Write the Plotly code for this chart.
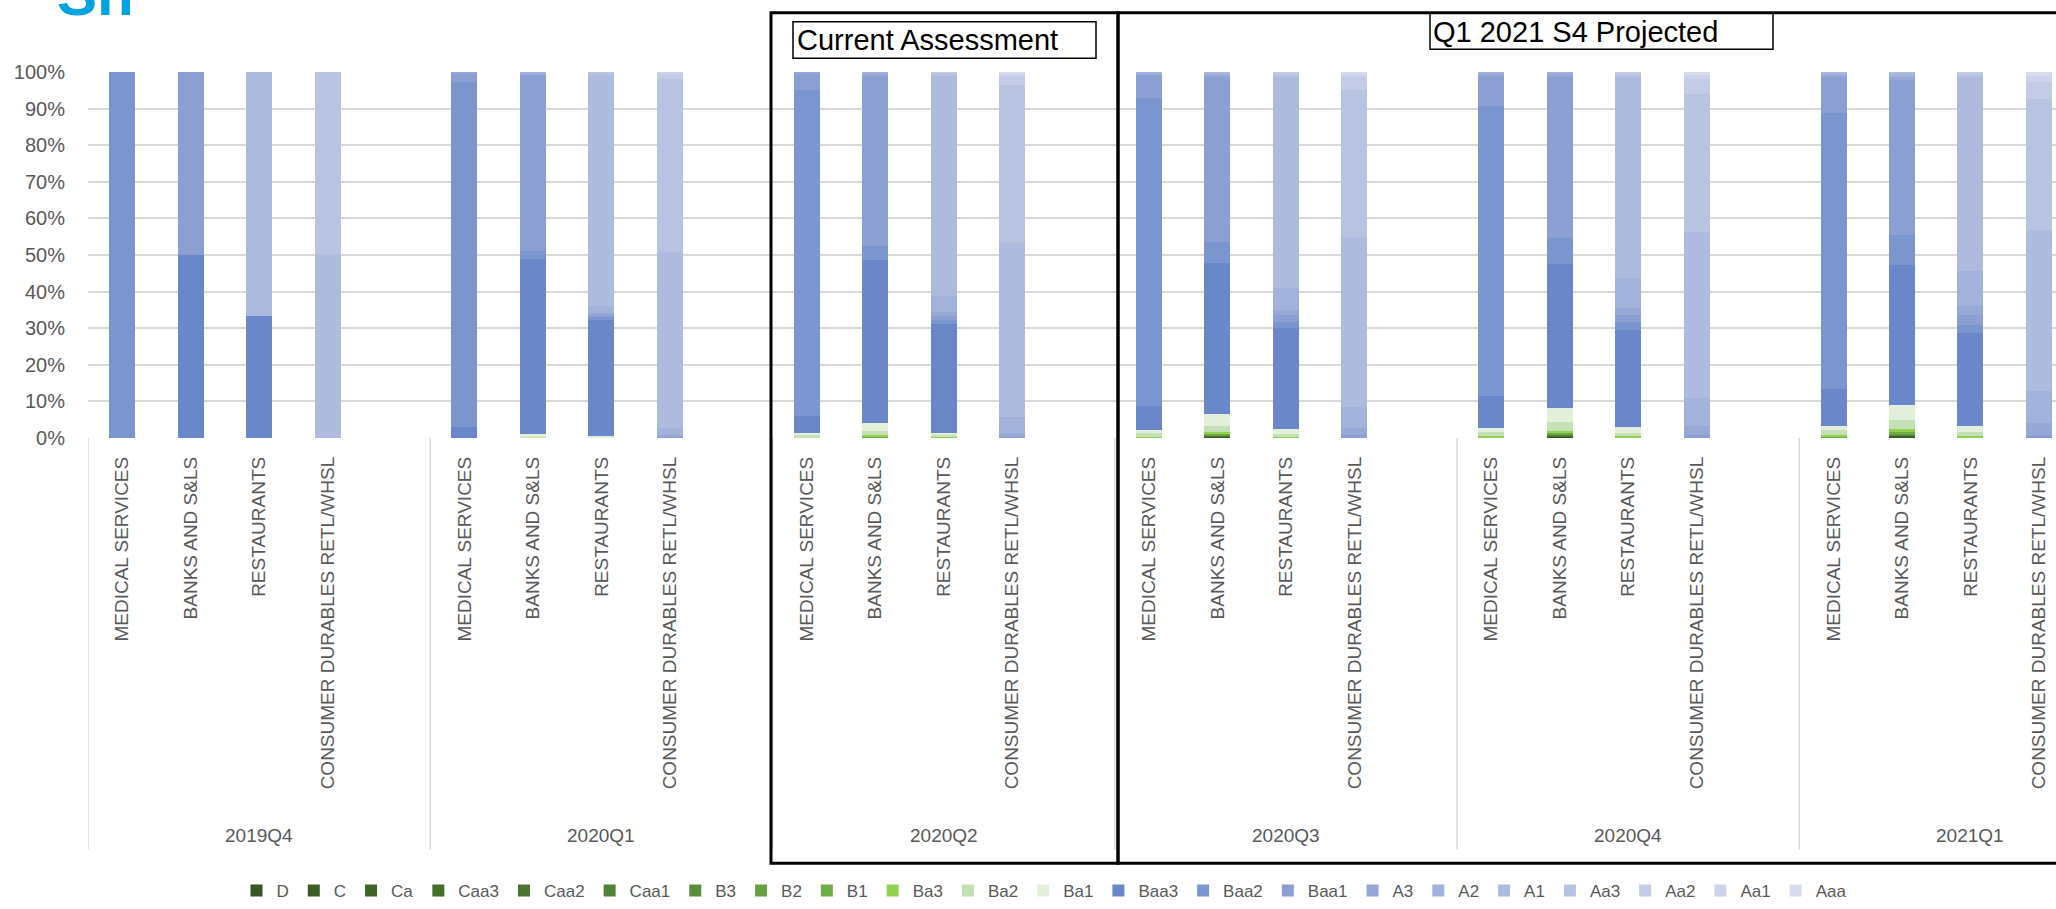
import plotly.graph_objects as go

# ---------------- data ----------------
quarters = ["2019Q4", "2020Q1", "2020Q2", "2020Q3", "2020Q4", "2021Q1"]
industries = ["MEDICAL SERVICES", "BANKS AND S&LS", "RESTAURANTS", "CONSUMER DURABLES RETL/WHSL"]
ratings = ["D", "C", "Ca", "Caa3", "Caa2", "Caa1", "B3", "B2", "B1", "Ba3", "Ba2", "Ba1",
           "Baa3", "Baa2", "Baa1", "A3", "A2", "A1", "Aa3", "Aa2", "Aa1", "Aaa"]

# share (%) per bar, ordered quarter by quarter, industry by industry
D    = [0, 0, 0, 0,  0, 0, 0, 0,  0, 0, 0, 0,  0, 0.2, 0, 0,  0, 0.3, 0, 0,  0, 0.4, 0, 0]
C    = [0, 0, 0, 0,  0, 0, 0, 0,  0, 0, 0, 0,  0, 0.1, 0, 0,  0, 0.1, 0, 0,  0, 0.1, 0, 0]
Ca   = [0, 0, 0, 0,  0, 0, 0, 0,  0, 0, 0, 0,  0, 0.1, 0, 0,  0, 0.1, 0, 0,  0, 0.1, 0, 0]
Caa3 = [0, 0, 0, 0,  0, 0, 0, 0,  0, 0, 0, 0,  0, 0.1, 0, 0,  0, 0.1, 0, 0,  0, 0.1, 0, 0]
Caa2 = [0, 0, 0, 0,  0, 0, 0, 0,  0, 0, 0, 0,  0, 0.1, 0, 0,  0, 0.1, 0, 0,  0, 0.1, 0, 0]
Caa1 = [0, 0, 0, 0,  0, 0, 0, 0,  0, 0, 0, 0,  0, 0.1, 0, 0,  0, 0.1, 0, 0,  0, 0.1, 0, 0]
B3   = [0, 0, 0, 0,  0, 0, 0, 0,  0, 0, 0, 0,  0, 0.1, 0, 0,  0, 0.1, 0, 0,  0, 0.1, 0, 0]
B2   = [0, 0, 0, 0,  0, 0, 0, 0,  0, 0, 0, 0,  0, 0.1, 0, 0,  0, 0.2, 0, 0,  0, 0.2, 0, 0]
B1   = [0, 0, 0, 0,  0, 0, 0, 0,  0, 0.3, 0, 0,  0.2, 0.3, 0.1, 0,  0.2, 0.4, 0.2, 0,  0.3, 0.5, 0.2, 0]
Ba3  = [0, 0, 0, 0,  0, 0, 0, 0,  0.2, 0.4, 0.2, 0,  0.2, 0.4, 0.2, 0,  0.3, 0.5, 0.3, 0,  0.6, 0.8, 0.3, 0]
Ba2  = [0, 0, 0, 0,  0, 0.4, 0.2, 0,  0.5, 1.3, 0.6, 0,  1.0, 1.8, 0.7, 0,  1.1, 2.5, 0.9, 0,  1.2, 2.4, 1.1, 0]
Ba1  = [0, 0, 0, 0,  0, 0.6, 0.3, 0,  0.6, 2.2, 0.7, 0,  0.9, 3.1, 1.5, 0,  1.1, 3.6, 1.6, 0,  1.1, 4.0, 1.8, 0.1]
Baa3 = [0, 50, 33.3, 0,  2.9, 47.9, 31.8, 0,  4.8, 44.3, 29.7, 0,  6.5, 41.4, 27.6, 0,  8.7, 39.5, 26.4, 0,  10.3, 38.4, 25.2, 0.1]
Baa2 = [100, 0, 0, 0,  94.5, 2.3, 0.7, 0,  88.9, 3.9, 1.1, 0,  84.0, 5.7, 1.5, 0.2,  79.4, 7.0, 2.2, 0.2,  75.4, 8.3, 2.4, 0.2]
Baa1 = [0, 50, 0, 0,  2.2, 48.0, 0.7, 0.4,  4.5, 46.6, 1.1, 0.2,  6.4, 45.1, 1.9, 0.5,  8.1, 43.9, 2.1, 0.5,  9.6, 42.2, 2.7, 0.4]
A3   = [0, 0, 0, 0,  0.4, 0.5, 0.4, 0.5,  0.5, 0.5, 1.1, 1.3,  0.5, 0.7, 1.4, 2.0,  0.7, 1.0, 1.8, 2.5,  0.7, 0.9, 2.4, 3.3]
A2   = [0, 0, 0, 0,  0, 0.3, 2.0, 1.8,  0, 0.5, 4.3, 4.2,  0.3, 0.4, 6.2, 5.7,  0.4, 0.5, 8.1, 7.6,  0.6, 0.9, 9.4, 8.8]
A1   = [0, 0, 66.7, 50,  0, 0, 63.1, 48.0,  0, 0, 60.2, 47.7,  0, 0.2, 57.5, 46.6,  0, 0, 54.9, 45.6,  0.2, 0.5, 53.1, 43.9]
Aa3  = [0, 0, 0, 50,  0, 0, 0.8, 47.4,  0, 0, 0.8, 43.1,  0, 0, 0.9, 40.2,  0, 0, 1.0, 37.5,  0, 0, 0.9, 35.9]
Aa2  = [0, 0, 0, 0,  0, 0, 0, 1.5,  0, 0, 0.2, 2.5,  0, 0, 0.5, 3.4,  0, 0, 0.5, 4.1,  0, 0, 0.5, 4.7]
Aa1  = [0, 0, 0, 0,  0, 0, 0, 0.4,  0, 0, 0, 0.6,  0, 0, 0, 0.9,  0, 0, 0, 1.3,  0, 0, 0, 1.5]
Aaa  = [0, 0, 0, 0,  0, 0, 0, 0,  0, 0, 0, 0.4,  0, 0, 0, 0.5,  0, 0, 0, 0.7,  0, 0, 0, 1.1]

series = [D, C, Ca, Caa3, Caa2, Caa1, B3, B2, B1, Ba3, Ba2, Ba1,
          Baa3, Baa2, Baa1, A3, A2, A1, Aa3, Aa2, Aa1, Aaa]

# ---------------- style ----------------
colors = ["#375623", "#3B5D25", "#3F6428", "#466E2D", "#4B7531", "#548235", "#5B8C39",
          "#66A041", "#70AD47", "#92D050", "#C5E0B4", "#E2EFDA",
          "#6A88C9", "#7B95CE", "#8B9FD2", "#97A8D6", "#A3B2DB", "#AEBBDF",
          "#B8C3E2", "#C3CBE6", "#CCD3EA", "#D6DCEE"]

W, H = 2056, 909
ML, MR, MT, MB = 88, 0, 72, 466
PW, PH = W - ML - MR, H - MT - MB
SLOTS = 5  # 4 industries + one empty slot per quarter

def px_x(px):
    return (px - ML) / PW

def px_y(py):
    return (MT + PH - py) / PH

x_pos = [q * SLOTS + i for q in range(len(quarters)) for i in range(len(industries))]
tick_text = [ind for _ in quarters for ind in industries]

FONT = "Liberation Sans, Arial, sans-serif"
GREY = "#595959"

fig = go.Figure()
for name, vals, col in zip(ratings, series, colors):
    fig.add_trace(go.Bar(x=x_pos, y=vals, name=name, width=0.38,
                         marker=dict(color=col, line=dict(width=0))))

shapes = []
# group separators below the axis
for q in range(len(quarters)):
    xs = q * SLOTS - 0.5
    shapes.append(dict(type="line", xref="x", yref="paper", x0=xs, x1=xs,
                       y0=0, y1=px_y(860), line=dict(color="#D9D9D9", width=1.5)))
# black overlay boxes
shapes.append(dict(type="rect", xref="paper", yref="paper",
                   x0=px_x(771), x1=px_x(1118), y0=px_y(874), y1=px_y(12),
                   line=dict(color="black", width=3)))
shapes.append(dict(type="rect", xref="paper", yref="paper",
                   x0=px_x(1118), x1=px_x(2080), y0=px_y(874), y1=px_y(12),
                   line=dict(color="black", width=3)))
shapes.append(dict(type="rect", xref="paper", yref="paper",
                   x0=px_x(793), x1=px_x(1096), y0=px_y(58), y1=px_y(21),
                   line=dict(color="black", width=1.5)))
shapes.append(dict(type="rect", xref="paper", yref="paper",
                   x0=px_x(1430), x1=px_x(1773), y0=px_y(49), y1=px_y(12),
                   line=dict(color="black", width=1.5)))

annotations = []
for q, lab in enumerate(quarters):
    annotations.append(dict(text=lab, x=q * SLOTS + 2, xref="x", y=px_y(846), yref="paper",
                            showarrow=False, xanchor="center", yanchor="middle",
                            font=dict(family=FONT, size=19, color=GREY)))
annotations.append(dict(text="Current Assessment", x=px_x(795), y=px_y(40), xref="paper", yref="paper",
                        showarrow=False, xanchor="left", yanchor="middle",
                        font=dict(family=FONT, size=29, color="black")))
annotations.append(dict(text="Q1 2021 S4 Projected", x=px_x(1431), y=px_y(31), xref="paper", yref="paper",
                        showarrow=False, xanchor="left", yanchor="middle",
                        font=dict(family=FONT, size=29, color="black")))
annotations.append(dict(text="<b>Sh</b>", x=px_x(55), y=px_y(29), xref="paper", yref="paper",
                        showarrow=False, xanchor="left", yanchor="bottom",
                        font=dict(family=FONT, size=60, color="#00A3E0")))

fig.update_layout(
    width=W, height=H,
    margin=dict(l=ML, r=MR, t=MT, b=MB, pad=0),
    paper_bgcolor="white", plot_bgcolor="white",
    barmode="stack", barnorm="percent",
    font=dict(family=FONT, color=GREY),
    xaxis=dict(range=[-0.5, 28.25], tickmode="array", tickvals=x_pos, ticktext=tick_text,
               tickangle=-90, tickfont=dict(family=FONT, size=19, color=GREY),
               showgrid=False, zeroline=False, showline=False, ticks="",
               ticklabelstandoff=14),
    yaxis=dict(range=[0, 100], tickmode="linear", tick0=0, dtick=10, ticksuffix="%",
               showgrid=True, gridcolor="#D9D9D9", gridwidth=2, zeroline=False,
               showline=False, ticks="", tickfont=dict(family=FONT, size=20, color=GREY),
               ticklabelstandoff=22),
    legend=dict(orientation="h", x=px_x(1044), xanchor="center", y=px_y(903), yanchor="middle",
                font=dict(family=FONT, size=17, color=GREY), traceorder="normal",
                itemwidth=30, bgcolor="rgba(0,0,0,0)"),
    shapes=shapes,
    annotations=annotations,
    showlegend=True,
)

fig.write_html("out.html")
